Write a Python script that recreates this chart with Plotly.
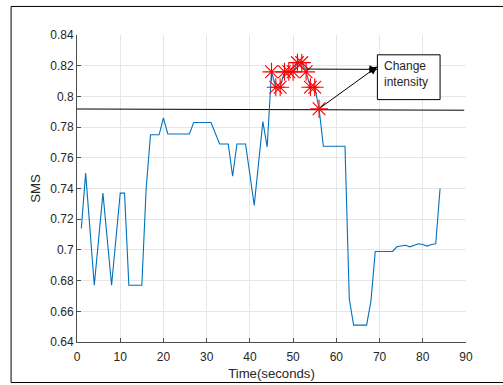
import plotly.graph_objects as go

# SMS series
time_s = [1, 2, 4, 6, 8, 10, 11, 12, 15, 16, 17, 19, 20, 21, 26, 27, 31, 33, 35, 36, 37, 39,
          41, 43, 44, 45, 46, 47, 48, 49, 50, 51, 52, 53, 54, 55, 56, 57, 62, 63, 64, 67, 68,
          69, 73, 74, 75, 76, 77, 78, 79, 80, 81, 82, 83, 84]
sms = [0.714, 0.750, 0.677, 0.737, 0.677, 0.737, 0.737, 0.677, 0.677, 0.740, 0.775, 0.775,
       0.786, 0.7755, 0.7755, 0.783, 0.783, 0.769, 0.769, 0.748, 0.769, 0.769,
       0.729, 0.7836, 0.767, 0.816, 0.806, 0.806, 0.816, 0.816, 0.816, 0.822, 0.822, 0.816,
       0.806, 0.806, 0.792, 0.7675, 0.7675, 0.668, 0.651, 0.651, 0.6665,
       0.699, 0.699, 0.702, 0.7025, 0.703, 0.702, 0.703, 0.704, 0.7035, 0.7025, 0.7035, 0.704, 0.740]

# highlighted (change) points
star_t = [45, 46, 47, 48, 49, 50, 51, 52, 53, 54, 55, 56]
star_v = [0.816, 0.806, 0.806, 0.816, 0.816, 0.816, 0.822, 0.822, 0.816, 0.806, 0.806, 0.792]

# threshold line
thr_x = [0, 89.6]
thr_y = [0.7918, 0.7910]

x_ticks = [0, 10, 20, 30, 40, 50, 60, 70, 80, 90]
y_ticks = [0.64, 0.66, 0.68, 0.70, 0.72, 0.74, 0.76, 0.78, 0.80, 0.82, 0.84]
y_labels = ["0.64", "0.66", "0.68", "0.7", "0.72", "0.74", "0.76", "0.78", "0.8", "0.82", "0.84"]

txt = "#262626"
font = "Liberation Sans, Arial, sans-serif"

fig = go.Figure()
fig.add_trace(go.Scatter(x=thr_x, y=thr_y, mode="lines",
                         line=dict(color="black", width=1), hoverinfo="skip"))
fig.add_trace(go.Scatter(x=time_s, y=sms, mode="lines",
                         line=dict(color="#0072BD", width=1.1)))
fig.add_trace(go.Scatter(x=star_t, y=star_v, mode="markers",
                         marker=dict(symbol="asterisk-open", size=15, color="red",
                                     line=dict(color="red", width=1.1))))

# arrows
fig.add_annotation(x=69.5, y=0.8176, ax=52.7, ay=0.8178, xref="x", yref="y",
                   axref="x", ayref="y", showarrow=True, arrowhead=2, arrowsize=1.6,
                   arrowwidth=1, arrowcolor="black", text="")
fig.add_annotation(x=69.5, y=0.8195, ax=56.0, ay=0.792, xref="x", yref="y",
                   axref="x", ayref="y", showarrow=True, arrowhead=2, arrowsize=1.6,
                   arrowwidth=1, arrowcolor="black", text="")

# text box
fig.add_shape(type="rect", x0=69.5, x1=84.0, y0=0.7979, y1=0.8271, xref="x", yref="y",
              line=dict(color="black", width=1), fillcolor="white")
fig.add_annotation(x=70.6, y=0.8147, xref="x", yref="y", text="Change<br>intensity",
                   showarrow=False, xanchor="left", yanchor="middle", align="left",
                   font=dict(family=font, size=12, color=txt))

# outer frame (top, left, bottom)
for (x0, y0, x1, y1) in [(-0.1695, 1.093, 1.1, 1.093), (-0.1695, 1.093, -0.1695, -0.132),
                         (-0.1695, -0.132, 1.1, -0.132)]:
    fig.add_shape(type="line", xref="paper", yref="paper", x0=x0, y0=y0, x1=x1, y1=y1,
                  line=dict(color="black", width=1))

fig.update_layout(
    width=503, height=385,
    margin=dict(l=77, r=37, t=35, b=43),
    paper_bgcolor="white", plot_bgcolor="white",
    showlegend=False,
    font=dict(family=font, size=12, color=txt),
    xaxis=dict(range=[0, 90], tickvals=x_ticks, showgrid=True, gridcolor="#e6e6e6",
               gridwidth=1, zeroline=False, showline=True, linecolor="#4d4d4d", linewidth=1,
               ticks="inside", ticklen=4, tickcolor="#4d4d4d", tickfont=dict(size=12),
               ticklabelstandoff=4, automargin=False,
               title=dict(text="Time(seconds)", standoff=5, font=dict(size=13.2, color=txt))),
    yaxis=dict(range=[0.64, 0.84], tickvals=y_ticks, ticktext=y_labels, showgrid=True,
               gridcolor="#e6e6e6", gridwidth=1, zeroline=False, showline=True,
               linecolor="#4d4d4d", linewidth=1, ticks="inside", ticklen=4,
               tickcolor="#4d4d4d", tickfont=dict(size=12), automargin=False,
               title=dict(text="SMS", standoff=6, font=dict(size=13.2, color=txt))),
)

fig.write_html("out.html", config={"displayModeBar": False},
               post_script="document.body.style.margin='0';document.body.style.overflow='hidden';")
